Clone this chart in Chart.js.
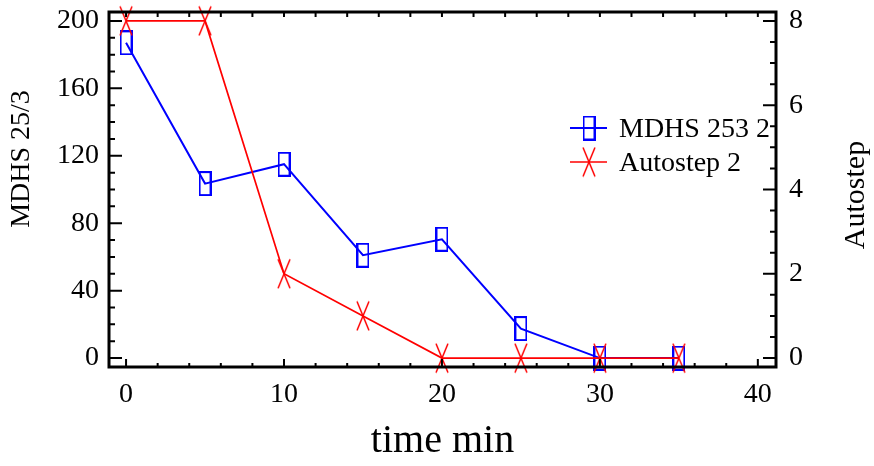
<!DOCTYPE html>
<html lang="en">
<head>
    <meta charset="UTF-8">
    <title>MDHS 253 2 vs Autostep 2</title>
    <style>
        body { margin: 0; background: #ffffff; }
        .wrap { width: 874px; height: 466px; }
    </style>
</head>
<body>
    <div class="wrap"><canvas id="chart" width="874" height="466"></canvas></div>

    <script src="https://cdn.jsdelivr.net/npm/chart.js"></script>
    <script>
        // data
        const times = [0, 5, 10, 15, 20, 25, 30, 35];
        const mdhs = [187, 103.5, 115, 61, 70.5, 17.5, 0, 0];
        const autostep = [8, 8, 2, 1, 0, 0, 0, 0];

        const xTicks = [0, 10, 20, 30, 40];
        const leftTicks = [0, 40, 80, 120, 160, 200];
        const rightTicks = [0, 2, 4, 6, 8];

        const serif = "'Liberation Serif', 'DejaVu Serif', serif";
        const blue = '#0000ff';
        const red = '#ff0000';

        // tall open rectangle marker
        function rectMarker(color) {
            const c = document.createElement('canvas');
            c.width = 13; c.height = 25;
            const g = c.getContext('2d');
            g.strokeStyle = color;
            g.lineWidth = 2;
            g.strokeRect(1, 1, 11, 23);
            return c;
        }

        // tall X marker
        function crossMarker(color) {
            const c = document.createElement('canvas');
            c.width = 14; c.height = 31;
            const g = c.getContext('2d');
            g.strokeStyle = color;
            g.lineWidth = 1.5;
            g.beginPath();
            g.moveTo(1, 1); g.lineTo(13, 30);
            g.moveTo(13, 1); g.lineTo(1, 30);
            g.stroke();
            return c;
        }

        const sq = rectMarker(blue);
        const cross = crossMarker(red);

        function fixTicks(values) {
            return function (scale) {
                scale.ticks = values.map(v => ({ value: v }));
            };
        }

        // no extra room for overhanging labels, the box sizes are fixed
        function fixSize(w, h) {
            return function (s) {
                if (w !== null) s.width = w;
                if (h !== null) s.height = h;
                s.paddingTop = 0; s.paddingBottom = 0;
                s.paddingLeft = 0; s.paddingRight = 0;
            };
        }

        // frame, inward ticks, side titles and legend
        const decor = {
            id: 'decor',
            afterDraw(chart) {
                const { ctx, chartArea: a, scales } = chart;
                const x = scales.x, y = scales.y, y1 = scales.y1;
                ctx.save();
                ctx.strokeStyle = '#000';

                ctx.lineWidth = 2;
                ctx.beginPath();
                for (let v = 0; v <= 40; v += 2) {
                    const px = x.getPixelForValue(v);
                    const len = v % 10 === 0 ? 8 : 4;
                    ctx.moveTo(px, a.bottom); ctx.lineTo(px, a.bottom - len);
                    ctx.moveTo(px, a.top); ctx.lineTo(px, a.top + 5);
                }
                for (let v = 0; v <= 200; v += 10) {
                    const py = y.getPixelForValue(v);
                    const len = v % 40 === 0 ? 13 : 6;
                    ctx.moveTo(a.left, py); ctx.lineTo(a.left + len, py);
                }
                for (let v = 0; v <= 8; v += 0.5) {
                    const py = y1.getPixelForValue(v);
                    const len = v % 2 === 0 ? 13 : 6;
                    ctx.moveTo(a.right, py); ctx.lineTo(a.right - len, py);
                }
                ctx.stroke();

                ctx.lineWidth = 3;
                ctx.strokeRect(a.left, a.top, a.right - a.left, a.bottom - a.top);

                // axis titles on the sides, both read bottom to top
                ctx.fillStyle = '#000';
                ctx.textAlign = 'center';
                ctx.textBaseline = 'middle';
                ctx.font = '28px ' + serif;
                ctx.save();
                ctx.translate(22, 159);
                ctx.rotate(-Math.PI / 2);
                ctx.fillText('MDHS 25/3', 0, 0);
                ctx.restore();
                ctx.save();
                ctx.translate(856, 195);
                ctx.rotate(-Math.PI / 2);
                ctx.font = '30px ' + serif;
                ctx.fillText('Autostep', 0, 0);
                ctx.restore();

                // legend
                const items = [
                    { text: chart.data.datasets[1].label, color: blue, mark: sq, w: 2 },
                    { text: chart.data.datasets[0].label, color: red, mark: cross, w: 1.5 }
                ];
                ctx.font = '28px ' + serif;
                ctx.textAlign = 'left';
                ctx.textBaseline = 'alphabetic';
                items.forEach((it, i) => {
                    const cy = 128 + i * 34;
                    ctx.strokeStyle = it.color;
                    ctx.lineWidth = it.w;
                    ctx.beginPath();
                    ctx.moveTo(570, cy); ctx.lineTo(607, cy);
                    ctx.stroke();
                    ctx.drawImage(it.mark, 589 - it.mark.width / 2, cy - it.mark.height / 2);
                    ctx.fillStyle = '#000';
                    ctx.fillText(it.text, 619, cy + 9);
                });
                ctx.restore();
            }
        };

        new Chart(document.getElementById('chart'), {
            type: 'line',
            data: {
                datasets: [{
                    label: 'Autostep 2',
                    data: times.map((t, i) => ({ x: t, y: autostep[i] })),
                    yAxisID: 'y1',
                    borderColor: red,
                    borderWidth: 1.7,
                    pointStyle: cross,
                    pointRadius: 8,
                    clip: false,
                    order: 0
                }, {
                    label: 'MDHS 253 2',
                    data: times.map((t, i) => ({ x: t, y: mdhs[i] })),
                    yAxisID: 'y',
                    borderColor: blue,
                    borderWidth: 2,
                    pointStyle: sq,
                    pointRadius: 8,
                    clip: false,
                    order: 1
                }]
            },
            options: {
                responsive: false,
                animation: false,
                layout: { padding: { top: 12, left: 0, right: 0, bottom: 0 } },
                plugins: {
                    legend: { display: false },
                    tooltip: { enabled: false }
                },
                scales: {
                    x: {
                        type: 'linear',
                        min: -1.08,
                        max: 41.15,
                        afterBuildTicks: fixTicks(xTicks),
                        afterFit: fixSize(null, 99),
                        grid: { display: false, drawTicks: false },
                        border: { display: false },
                        ticks: { color: '#000', padding: 11, font: { family: serif, size: 28 } },
                        title: {
                            display: true,
                            text: 'time min',
                            color: '#000',
                            padding: { top: 0, bottom: 1 },
                            font: { family: serif, size: 40 }
                        }
                    },
                    y: {
                        position: 'left',
                        min: -5.3,
                        max: 205.3,
                        afterBuildTicks: fixTicks(leftTicks),
                        afterFit: fixSize(109, null),
                        grid: { display: false, drawTicks: false },
                        border: { display: false },
                        ticks: { color: '#000', padding: 10, font: { family: serif, size: 28 } }
                    },
                    y1: {
                        position: 'right',
                        min: -0.212,
                        max: 8.212,
                        afterBuildTicks: fixTicks(rightTicks),
                        afterFit: fixSize(98, null),
                        grid: { display: false, drawTicks: false },
                        border: { display: false },
                        ticks: { color: '#000', padding: 13, font: { family: serif, size: 28 } }
                    }
                }
            },
            plugins: [decor]
        });
    </script>
</body>
</html>
